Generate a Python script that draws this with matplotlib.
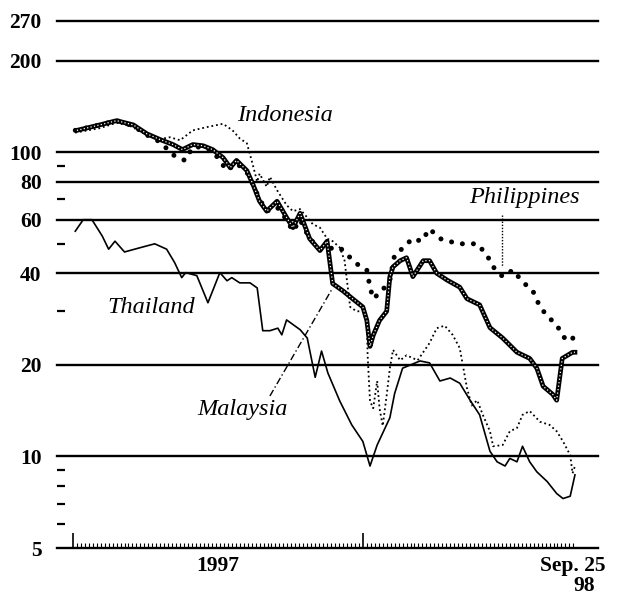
import numpy as np
import matplotlib
matplotlib.use("Agg")
import matplotlib.pyplot as plt
from matplotlib.ticker import FixedLocator, FixedFormatter, NullFormatter

# x values are days after 1 Jan 1997, y values index level (log scale)
thai_days = [3, 13, 24, 37, 45, 53, 65, 84, 103, 118, 128, 137, 142, 156, 170, 185, 194, 200, 210, 223,
             232, 239, 248, 258, 263, 269, 286, 295, 305, 313, 321, 336, 351, 365, 374, 383, 399, 405, 415, 437,
             449, 462, 475, 487, 500, 512, 525, 534, 544, 550, 559, 566, 575, 584, 597, 609, 617, 626, 632]
thai_vals = [55, 60, 60, 53, 48, 51, 47, 48.5, 50, 48, 43.4, 38.7, 40.2, 39.3, 32, 40.2, 37.8, 38.7, 37.2, 37.2,
             35.8, 25.9, 25.9, 26.4, 25.1, 28.1, 26.1, 24.5, 18.2, 22.2, 18.8, 15.2, 12.7, 11.2, 9.3, 10.9, 13.4, 16.1, 19.5, 20.6,
             20.3, 17.7, 18.1, 17.4, 15.3, 13.7, 10.4, 9.6, 9.3, 9.85, 9.6, 10.8, 9.6, 8.9, 8.27, 7.55, 7.27, 7.4, 8.7]

malay_days = [5, 34, 55, 76, 93, 110, 126, 138, 151, 164, 176, 189, 198, 206, 219, 227, 235, 244, 257, 269,
              277, 286, 298, 311, 320, 327, 340, 352, 365, 370, 374, 378, 386, 395, 399, 403, 412, 420, 428, 441,
              449, 458, 471, 487, 496, 512, 525, 541, 559, 575, 584, 592, 604, 609, 616, 629, 632]
malay_vals = [118, 123, 127, 123, 115, 110, 106, 102, 106, 105, 102, 96, 89, 94, 87, 78, 69, 64, 69, 61,
              56.5, 63, 52, 47.5, 51, 37, 35, 33, 31, 28, 23, 25, 28, 30, 39, 42, 44, 45, 39, 44,
              44, 40, 38, 36, 33, 31.5, 26.5, 24.5, 22, 21, 19.5, 17, 16, 15.3, 21, 22, 22]

phil_days = [3, 34, 55, 76, 93, 110, 126, 141, 151, 164, 176, 194, 206, 219, 227, 235, 244, 257, 269, 277,
             286, 298, 311, 336, 357, 370, 374, 378, 389, 399, 405, 418, 427, 439, 449, 462, 485, 509, 521, 529,
             541, 554, 566, 579, 588, 597, 609, 619, 628, 632]
phil_vals = [118, 123, 127, 122, 114, 108, 98, 94, 104, 104, 101, 87, 92, 86, 78, 70, 64, 66, 60, 55,
             60, 52, 48, 48.6, 43, 41, 36, 33, 35, 38, 46, 49, 52, 51, 56, 52, 50, 50, 46, 42,
             39, 41, 37.5, 35, 31, 29, 27, 24.5, 24, 25.5]

indo_days = [3, 34, 55, 72, 88, 106, 122, 135, 151, 169, 189, 201, 210, 219, 225, 232, 235, 244, 248, 257,
             269, 277, 286, 295, 302, 311, 320, 327, 336, 342, 346, 349, 357, 365, 370, 371, 374, 378, 383, 386,
             390, 395, 399, 403, 412, 420, 434, 449, 458, 468, 478, 487, 496, 502, 509, 516, 525, 529, 541, 550,
             559, 566, 575, 588, 600, 609, 617, 626, 629, 632]
indo_vals = [116, 120, 125, 122, 116, 110, 112, 109.5, 118, 121, 124, 118, 111, 107, 94, 80, 85, 77, 83, 75,
             67, 64, 65, 61, 58, 56.5, 52, 51, 48.6, 44, 36, 31, 30, 30, 27.5, 21.5, 15.2, 14.4, 17.7, 14.4,
             12.6, 15.9, 19.5, 22.4, 20.7, 21.5, 20.7, 23.6, 26.4, 26.9, 25.1, 22.7, 16.8, 14.7, 15.3, 13.7, 12.1, 10.8, 10.9, 12.1,
             12.4, 13.7, 14.1, 13.0, 12.7, 12.1, 11.2, 10.1, 8.8, 9.3]

y_major = [5, 10, 20, 40, 60, 80, 100, 200, 270]
y_major_labels = ['5', '10', '20', '40', '60', '80', '100', '200', '270']
y_minor = [6, 7, 8, 9, 30, 50, 70, 90]
year_starts = [0, 365]
end_day = 632

plt.rcParams['font.family'] = ['Liberation Serif', 'DejaVu Serif']

fig = plt.figure(figsize=(6.23, 5.98), dpi=100)
ax = fig.add_axes([57 / 623, 1 - 548 / 598, (598 - 57) / 623, (548 - 21) / 598])
ax.set_yscale('log')
ax.set_ylim(5, 270)
ax.set_xlim(-20, 661)

# horizontal rules
for v in y_major[1:]:
    ax.axhline(v, color='black', lw=1.7, clip_on=False, zorder=1)

# series
ax.plot(thai_days, thai_vals, color='black', lw=1.2, zorder=3)
ax.plot(indo_days, indo_vals, color='black', lw=1.3, ls=(0, (1, 1.6)), zorder=3)
ax.plot(malay_days, malay_vals, color='black', lw=3.4, zorder=4, solid_joinstyle='round')
ax.plot(malay_days, malay_vals, color='white', lw=0.9, ls=(0, (1, 1.8)), zorder=5)
ax.plot(phil_days, phil_vals, color='black', lw=3.6, ls=(0, (0.01, 2.2)),
        dash_capstyle='round', zorder=4)

# axes styling
for s in ['top', 'right', 'left']:
    ax.spines[s].set_visible(False)
ax.spines['bottom'].set_linewidth(1.7)

ax.yaxis.set_major_locator(FixedLocator(y_major))
ax.yaxis.set_major_formatter(FixedFormatter(y_major_labels))
ax.yaxis.set_minor_locator(FixedLocator(y_minor))
ax.yaxis.set_minor_formatter(NullFormatter())
ax.tick_params(axis='y', which='major', length=0, pad=11, labelsize=15.5)
ax.tick_params(axis='y', which='minor', direction='in', length=6, width=1.6)
for lab in ax.get_yticklabels():
    lab.set_fontweight('bold')

ax.xaxis.set_major_locator(FixedLocator(year_starts))
ax.xaxis.set_major_formatter(NullFormatter())
ax.xaxis.set_minor_locator(FixedLocator(np.arange(0, end_day + 1, 5)))
ax.tick_params(axis='x', which='major', direction='in', length=11, width=1.2)
ax.tick_params(axis='x', which='minor', direction='in', length=3.5, width=0.8)

trans = ax.get_xaxis_transform()
ax.text(182.5, -0.015, '1997', transform=trans, ha='center', va='top', fontsize=15.5, fontweight='bold')
ax.text(629, -0.015, 'Sep. 25', transform=trans, ha='center', va='top', fontsize=15.5, fontweight='bold')
ax.text(644, -0.054, '98', transform=trans, ha='center', va='top', fontsize=15.5, fontweight='bold')

# series labels
lab_kw = dict(fontsize=17.5, style='italic', ha='center', va='center')
ax.text(267, 132, 'Indonesia', **lab_kw)
ax.text(568, 71, 'Philippines', **lab_kw)
ax.text(99, 30.8, 'Thailand', **lab_kw)
ax.text(213, 14.3, 'Malaysia', **lab_kw)

ax.plot([540, 540], [62, 42], color='black', lw=1.0, ls=(0, (1, 1.2)), zorder=3)
ax.plot([248, 327], [15.8, 35.8], color='black', lw=1.0, ls=(0, (5, 2, 1, 2)), zorder=3)

fig.savefig('out.png', dpi=100)
